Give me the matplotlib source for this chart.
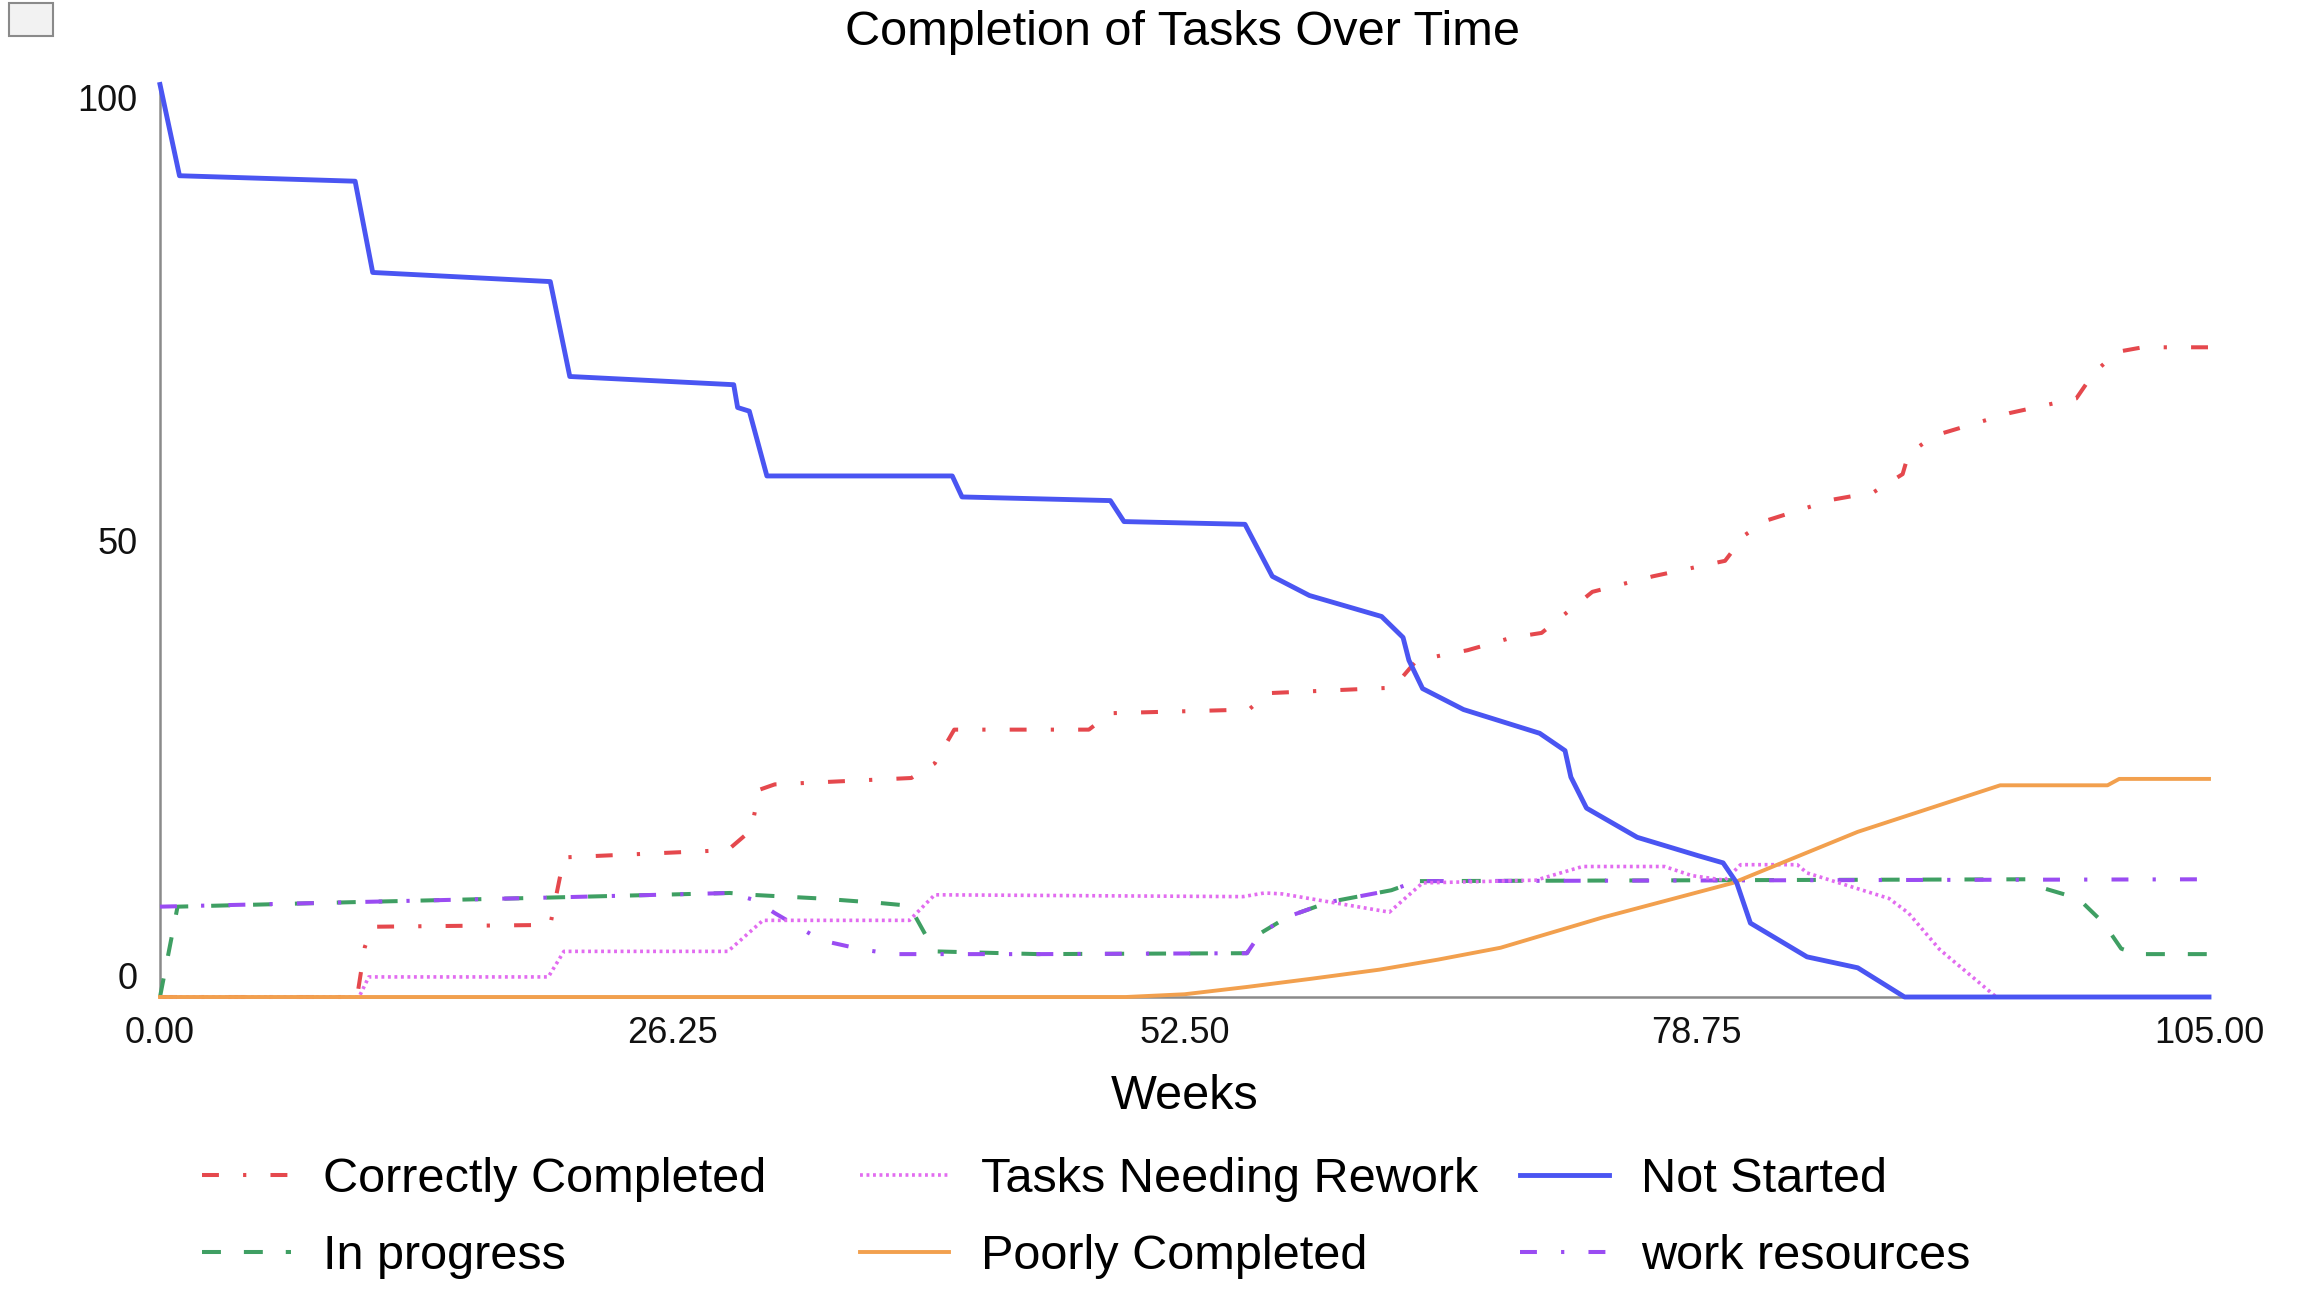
import matplotlib
matplotlib.use("Agg")
import matplotlib.pyplot as plt
from matplotlib.patches import Rectangle

plt.rcParams['font.family'] = ['Liberation Sans', 'DejaVu Sans']

# Correctly Completed
cc_weeks = [0, 10.1, 10.5, 10.9, 20.0, 20.7, 29.1, 30.3, 30.7, 31.5, 38.5, 39.7, 40.7, 47.6, 48.7,
            55.8, 56.8, 63.2, 64.4, 67.0, 69.3, 70.8, 73.4, 76.5, 80.2, 81.2, 82.3, 85.7, 87.8,
            89.3, 89.6, 90.9, 94.8, 98.2, 99.1, 100.3, 101.6, 105]
cc_vals = [0, 0, 5.5, 7.7, 7.9, 15.3, 16.1, 18.3, 22.7, 23.3, 24.0, 25.6, 29.3, 29.3, 31.1,
           31.5, 33.3, 33.9, 36.9, 38.0, 39.4, 39.9, 44.4, 46.1, 47.8, 50.6, 52.2, 54.5, 55.3,
           57.3, 59.5, 61.5, 64.0, 65.6, 68.4, 70.7, 71.2, 71.2]

# In progress
ip_weeks = [0, 0.9, 10, 20, 29.2, 30.3, 33.8, 36.9, 38.4, 39.7, 45, 55.7, 56.4, 57.8, 59.9,
            63.1, 64.4, 95.6, 96.4, 98.3, 99.6, 100.5, 101.3, 105]
ip_vals = [0, 9.9, 10.4, 10.9, 11.4, 11.2, 10.8, 10.3, 10.0, 5.0, 4.7, 4.8, 7.0, 8.8, 10.4,
           11.7, 12.7, 12.9, 12.0, 10.8, 8.1, 5.3, 4.7, 4.7]

# Tasks Needing Rework
tr_weeks = [0, 10.2, 10.7, 19.9, 20.7, 29.1, 30.9, 38.4, 39.7, 55.5, 56.6, 57.5, 63.0, 64.7,
            70.5, 72.9, 77.1, 78.5, 80.2, 81.0, 83.9, 84.4, 88.6, 89.6, 91.2, 94.1, 105]
tr_vals = [0, 0, 2.2, 2.2, 5.0, 5.0, 8.4, 8.4, 11.2, 11.0, 11.4, 11.3, 9.3, 12.5,
           12.8, 14.3, 14.3, 13.3, 12.8, 14.5, 14.5, 13.6, 10.8, 9.2, 5.2, 0, 0]

# Poorly Completed
pc_weeks = [0, 49.5, 52.5, 55.7, 59, 62.5, 65.5, 68.7, 73.9, 80.6, 87.0, 94.3, 99.8, 100.4, 105]
pc_vals = [0, 0, 0.3, 1.1, 2.0, 3.0, 4.1, 5.4, 8.7, 12.5, 18.1, 23.2, 23.2, 23.9, 23.9]

# Not Started
ns_weeks = [0, 1.0, 10.0, 10.9, 20.0, 21.0, 29.4, 29.6, 30.2, 31.1, 40.6, 41.1, 48.7, 49.4,
            55.6, 57.0, 58.9, 62.6, 63.7, 64.0, 64.7, 66.8, 70.7, 72.0, 72.3, 73.1, 75.7,
            78.8, 80.1, 80.8, 81.5, 84.4, 87.0, 89.4, 105]
ns_vals = [100, 90.0, 89.4, 79.4, 78.4, 68.0, 67.1, 64.6, 64.2, 57.1, 57.1, 54.8, 54.4, 52.1,
           51.8, 46.1, 44.0, 41.7, 39.4, 36.9, 33.8, 31.5, 28.9, 27.0, 24.1, 20.7, 17.5,
           15.5, 14.7, 12.5, 8.1, 4.4, 3.2, 0, 0]

# work resources
wr_weeks = [0, 10, 20, 29.2, 30.5, 31.5, 33.9, 36.0, 37.6, 45, 55.7, 56.4, 57.8, 59.9, 63.1, 64.4, 105]
wr_vals = [9.9, 10.4, 10.9, 11.4, 10.6, 9.2, 6.2, 5.2, 4.7, 4.7, 4.8, 7.0, 8.8, 10.4, 11.7, 12.7, 12.9]

x_ticks = [0, 26.25, 52.5, 78.75, 105]
x_tick_labels = ['0.00', '26.25', '52.50', '78.75', '105.00']
y_ticks = [0, 50, 100]

fig = plt.figure(figsize=(23.02, 13.16), dpi=100)
ax = fig.add_axes([0.0695, 0.2424, 0.9596 - 0.0695, 0.9358 - 0.2424])

lw = 2.9
l_cc, = ax.plot(cc_weeks, cc_vals, color='#e5484d', lw=lw, dashes=(4.2, 6, 0.8, 6), zorder=3, clip_on=False)
l_ip, = ax.plot(ip_weeks, ip_vals, color='#3f9f63', lw=lw, dashes=(4.7, 5.7), zorder=3, clip_on=False)
l_wr, = ax.plot(wr_weeks, wr_vals, color='#9a4cf2', lw=lw, dashes=(4.2, 6, 0.8, 6), zorder=3, clip_on=False)
l_tr, = ax.plot(tr_weeks, tr_vals, color='#e26cf0', lw=2.6, dashes=(0.8, 1.0), zorder=3, clip_on=False)
l_pc, = ax.plot(pc_weeks, pc_vals, color='#f2a04e', lw=2.8, zorder=4, clip_on=False)
l_ns, = ax.plot(ns_weeks, ns_vals, color='#4a55f2', lw=3.5, zorder=5, clip_on=False)

ax.set_xlim(0, 105)
ax.set_ylim(0, 100)
ax.set_xticks(x_ticks)
ax.set_xticklabels(x_tick_labels)
ax.set_yticks(y_ticks)
ax.set_yticklabels([str(v) for v in y_ticks])
ax.tick_params(length=0, labelsize=26, colors='#111111')
ax.tick_params(axis='x', pad=14)
ax.tick_params(axis='y', pad=16)
ylabels = ax.get_yticklabels()
ylabels[0].set_va('bottom')
ylabels[-1].set_va('top')

for side in ['top', 'right']:
    ax.spines[side].set_visible(False)
for side in ['left', 'bottom']:
    ax.spines[side].set_color('#8a8a8a')
    ax.spines[side].set_linewidth(1.8)

ax.set_xlabel('Weeks', fontsize=35, labelpad=16)
fig.text(0.5135, 0.975, 'Completion of Tasks Over Time', fontsize=35, ha='center', va='center')

# legend in three columns, like the original layout
legend_cols = [
    ([l_cc, l_ip], ['Correctly Completed', 'In progress'], 0.0877),
    ([l_tr, l_pc], ['Tasks Needing Rework', 'Poorly Completed'], 0.3736),
    ([l_ns, l_wr], ['Not Started', 'work resources'], 0.6603),
]
for handles, labels, x0 in legend_cols:
    fig.legend(handles, labels, loc='upper left', bbox_to_anchor=(x0, 0.121),
               frameon=False, fontsize=35, borderpad=0, borderaxespad=0,
               handlelength=1.83, handletextpad=0.66, labelspacing=0.66)

# small corner icon
fig.add_artist(Rectangle((0.004, 0.973), 0.019, 0.025, transform=fig.transFigure,
                         facecolor='#f2f2f2', edgecolor='#8a8a8a', lw=1.5))

fig.savefig('out.png', dpi=100)
